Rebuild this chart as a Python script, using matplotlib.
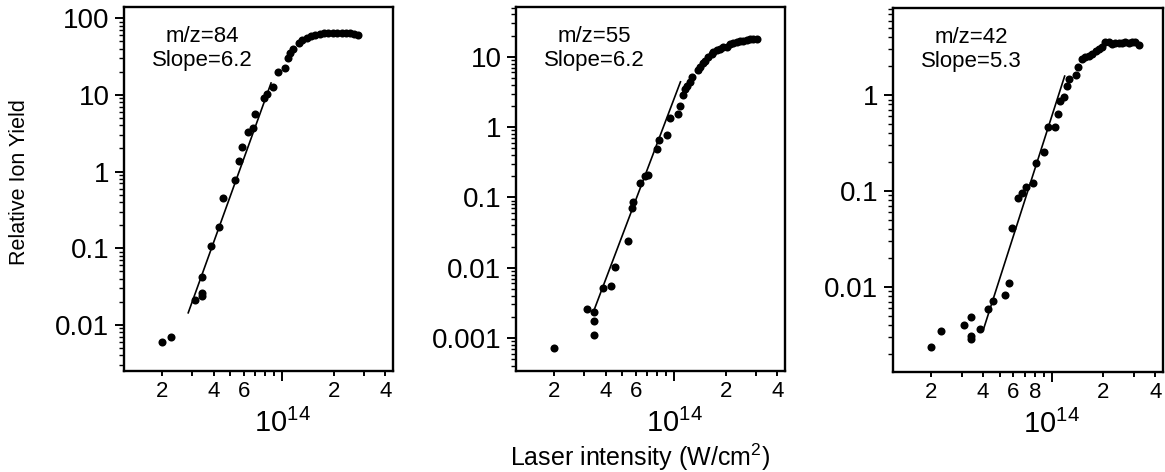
import numpy as np
import matplotlib
matplotlib.use('Agg')
import matplotlib.pyplot as plt
from matplotlib.ticker import FixedLocator, FuncFormatter, LogLocator, NullFormatter
from matplotlib.transforms import blended_transform_factory

plt.rcParams['font.family'] = ['Liberation Sans', 'DejaVu Sans']
plt.rcParams['mathtext.fontset'] = 'custom'
plt.rcParams['mathtext.rm'] = 'Liberation Sans'
plt.rcParams['mathtext.it'] = 'Liberation Sans:italic'

# intensities in units of 1e13 W/cm^2, yields as relative ion yield
# m/z = 84
int_84 = [2.0, 2.26, 3.11, 3.42, 3.42, 3.42, 3.86, 4.30, 4.53, 5.32, 5.62, 5.85,
          6.34, 6.78, 6.97, 7.85, 8.19, 8.87, 9.48, 10.4, 10.8, 11.1, 11.6, 12.6,
          13.0, 13.9, 14.7, 15.6, 16.6, 17.6, 18.6, 19.7, 21.0, 22.3, 23.6, 24.9,
          26.3, 27.8]
yld_84 = [0.0060, 0.0070, 0.0213, 0.024, 0.026, 0.0425, 0.107, 0.19, 0.45, 0.78,
          1.37, 2.09, 3.28, 3.70, 5.6, 9.1, 10.2, 12.6, 19.8, 22.3, 30.1, 35.0,
          39.5, 47.0, 51.7, 54.4, 58.3, 60.6, 61.9, 63.2, 63.2, 64.3, 64.3, 63.2,
          63.2, 63.2, 61.9, 60.1]
fit_int_84 = [2.84, 8.63]
fit_yld_84 = [0.0144, 14.3]

# m/z = 55
int_55 = [2.0, 3.10, 3.42, 3.42, 3.42, 3.85, 4.30, 4.53, 5.42, 5.67, 5.79, 6.34,
          6.78, 7.09, 7.93, 8.18, 9.07, 9.48, 10.5, 10.9, 11.3, 11.6, 11.9, 12.4,
          12.7, 13.7, 14.2, 14.8, 15.2, 15.8, 16.6, 16.9, 17.7, 18.5, 19.4, 20.3,
          21.2, 22.2, 23.2, 24.2, 25.3, 26.5, 27.7, 29.0, 30.3]
yld_55 = [0.00073, 0.0026, 0.00236, 0.00176, 0.0011, 0.00508, 0.00547, 0.0101,
          0.0241, 0.0698, 0.0866, 0.161, 0.201, 0.208, 0.48, 0.65, 0.77, 1.33,
          1.53, 1.99, 2.85, 3.44, 3.83, 4.41, 5.19, 6.47, 7.21, 8.22, 8.77, 10.0,
          10.9, 11.8, 12.5, 12.7, 13.9, 13.9, 15.2, 15.5, 16.2, 16.6, 16.9, 17.3,
          17.7, 17.7, 17.7]
fit_int_55 = [3.42, 10.9]
fit_yld_55 = [0.0025, 4.4]

# m/z = 42
int_42 = [2.0, 2.28, 3.11, 3.40, 3.40, 3.40, 3.85, 4.29, 4.54, 5.37, 5.66, 5.85,
          6.38, 6.77, 7.08, 7.84, 8.16, 9.03, 9.52, 10.45, 10.9, 11.2, 11.8, 12.3,
          12.6, 13.8, 14.2, 15.0, 15.7, 16.4, 17.2, 18.0, 18.8, 19.6, 20.5, 21.4,
          22.4, 23.4, 24.5, 25.6, 26.8, 28.0, 29.3, 30.6, 32.0]
yld_42 = [0.00236, 0.0035, 0.0040, 0.0049, 0.00305, 0.0029, 0.00367, 0.0059,
          0.0071, 0.0082, 0.011, 0.0416, 0.0855, 0.0955, 0.110, 0.1215, 0.194,
          0.256, 0.46, 0.46, 0.63, 0.87, 0.96, 1.24, 1.49, 1.62, 1.97, 2.36, 2.47,
          2.55, 2.68, 2.90, 3.0, 3.19, 3.60, 3.60, 3.38, 3.46, 3.52, 3.46, 3.60,
          3.52, 3.60, 3.60, 3.33]
fit_int_42 = [4.03, 11.9]
fit_yld_42 = [0.00367, 1.58]

labels = ['m/z=84\nSlope=6.2', 'm/z=55\nSlope=6.2', 'm/z=42\nSlope=5.3']
ylims = [(0.00251, 140), (0.00034, 51), (0.0013, 8.1)]
yticks = [[0.01, 0.1, 1, 10, 100], [0.001, 0.01, 0.1, 1, 10], [0.01, 0.1, 1]]
xlabeled = [[2, 4, 6, 20, 40], [2, 4, 6, 20, 40], [2, 4, 6, 8, 20, 40]]

series = [(int_84, yld_84, fit_int_84, fit_yld_84),
          (int_55, yld_55, fit_int_55, fit_yld_55),
          (int_42, yld_42, fit_int_42, fit_yld_42)]

W, H = 1165, 472
fig = plt.figure(figsize=(W / 100, H / 100), dpi=100)
boxes = [(124, 7, 393, 371), (516, 7, 785, 371), (893, 8, 1163, 372)]

minor_pos = [2, 3, 4, 5, 6, 7, 8, 9, 20, 30, 40]

for k, (x, y, fx, fy) in enumerate(series):
    l, t, r, b = boxes[k]
    ax = fig.add_axes([l / W, 1 - b / H, (r - l) / W, (b - t) / H])
    x = np.array(x) * 1e13
    fx = np.array(fx) * 1e13
    ax.plot(x, y, 'o', color='black', markersize=5.8, markeredgewidth=0)
    ax.plot(fx, fy, '-', color='black', linewidth=1.2)
    ax.set_xscale('log')
    ax.set_yscale('log')
    ax.set_xlim(1.2e13, 4.43e14)
    ax.set_ylim(*ylims[k])

    for s in ax.spines.values():
        s.set_linewidth(1.7)

    # x axis: long tick at 1e14, short labelled ticks elsewhere
    ax.xaxis.set_major_locator(FixedLocator([1e14]))
    ax.xaxis.set_major_formatter(NullFormatter())
    ax.xaxis.set_minor_locator(FixedLocator([v * 1e13 for v in minor_pos]))
    lab = xlabeled[k]
    ax.xaxis.set_minor_formatter(FuncFormatter(
        lambda v, p, lab=lab: '%d' % round(v / 1e13 if v < 1e14 else v / 1e14)
        if round(v / 1e13) in lab else ''))
    ax.tick_params(axis='x', which='major', direction='out', length=7, width=1.4)
    ax.tick_params(axis='x', which='minor', direction='out', length=3.5, width=1.4,
                   labelsize=16, pad=4)

    ax.yaxis.set_major_locator(FixedLocator(yticks[k]))
    ax.yaxis.set_major_formatter(FuncFormatter(lambda v, p: '%g' % v))
    ax.yaxis.set_minor_locator(LogLocator(base=10, subs=np.arange(2, 10), numticks=20))
    ax.yaxis.set_minor_formatter(NullFormatter())
    ax.tick_params(axis='y', which='major', direction='out', length=6.5, width=1.4,
                   labelsize=20, pad=4)
    ax.tick_params(axis='y', which='minor', direction='out', length=3.5, width=1.0)

    ax.text(0.29, 0.886, labels[k], transform=ax.transAxes, ha='center', va='center',
            fontsize=16, linespacing=1.2)

    tr = blended_transform_factory(ax.transData, ax.transAxes)
    ax.text(1e14, -0.143, r'$\mathregular{10^{14}}$', transform=tr, ha='center',
            va='center', fontsize=21)

fig.text(20 / W, 1 - 182 / H, 'Relative Ion Yield', rotation=90, ha='center',
         va='center', fontsize=15.5)
fig.text(640 / W, 1 - 457 / H, r'Laser intensity (W/cm$^2$)', ha='center',
         va='center', fontsize=18)

fig.savefig('out.png', dpi=100)
